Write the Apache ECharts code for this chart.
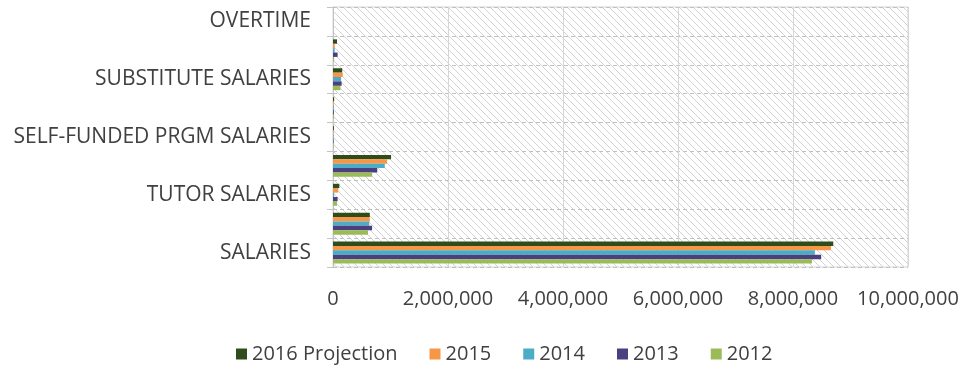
<!DOCTYPE html>
<html>
<head>
<meta charset="utf-8">
<script src="https://cdn.jsdelivr.net/npm/echarts@6/dist/echarts.min.js"></script>
<style>
  html, body { margin: 0; padding: 0; background: #ffffff; }
  #chart { width: 968px; height: 370px; }
</style>
</head>
<body>
<div id="chart"></div>
<script>
// Salary lines, listed from the bottom of the axis to the top
const categories = [
  'SALARIES', '', 'TUTOR SALARIES', '', 'SELF-FUNDED PRGM SALARIES',
  '', 'SUBSTITUTE SALARIES', '', 'OVERTIME'
];

// Amounts per year, same order as categories
const values2016 = [8700000, 640000, 110000, 1010000, 15000, 20000, 160000, 70000, 0];
const values2015 = [8660000, 640000, 90000, 940000, 10000, 15000, 170000, 30000, 0];
const values2014 = [8380000, 630000, 20000, 900000, 10000, 15000, 140000, 30000, 0];
const values2013 = [8490000, 680000, 80000, 770000, 10000, 15000, 150000, 80000, 0];
const values2012 = [8330000, 610000, 70000, 680000, 10000, 15000, 130000, 20000, 0];

const seriesNames = ['2016 Projection', '2015', '2014', '2013', '2012'];
const xTicks = { min: 0, max: 10000000, step: 2000000 };

// Diagonal hatch used as the plot-area fill
function hatchPattern() {
  const s = 7;
  const c = document.createElement('canvas');
  c.width = s; c.height = s;
  const g = c.getContext('2d');
  g.fillStyle = '#ffffff';
  g.fillRect(0, 0, s, s);
  g.strokeStyle = '#d2d2d2';
  g.lineWidth = 1;
  g.beginPath();
  g.moveTo(-1, -1); g.lineTo(s + 1, s + 1);
  g.moveTo(-1 - s, -1); g.lineTo(1, s + 1);
  g.moveTo(s - 1, -1); g.lineTo(2 * s + 1, s + 1);
  g.stroke();
  return { image: c, repeat: 'repeat' };
}

function withCommas(v) {
  return String(v).replace(/\B(?=(\d{3})+(?!\d))/g, ',');
}

const font = '"Open Sans", "Noto Sans", sans-serif';

const chart = echarts.init(document.getElementById('chart'), null, { renderer: 'canvas' });

function bar(name, data, color) {
  return {
    name: name,
    type: 'bar',
    data: data,
    barGap: '0%',
    barCategoryGap: '24%',
    itemStyle: { color: color },
    emphasis: { disabled: true }
  };
}

chart.setOption({
  animation: false,
  textStyle: { fontFamily: font },
  grid: {
    left: 333, right: 60, top: 7, bottom: 103,
    show: true,
    backgroundColor: hatchPattern(),
    borderColor: '#d4d4d4',
    borderWidth: 1
  },
  legend: {
    data: seriesNames,
    left: 231,
    top: 339,
    itemWidth: 11,
    itemHeight: 11,
    itemGap: 32,
    icon: 'rect',
    textStyle: { fontFamily: font, fontSize: 20, color: '#404040' }
  },
  xAxis: {
    type: 'value',
    min: xTicks.min,
    max: xTicks.max,
    interval: xTicks.step,
    axisLine: { show: false },
    axisTick: { show: false },
    splitLine: { show: true, lineStyle: { color: '#d6d6d6', width: 1 } },
    axisLabel: {
      margin: 22,
      fontFamily: font,
      fontSize: 20,
      color: '#404040',
      formatter: withCommas
    }
  },
  yAxis: {
    type: 'category',
    data: categories,
    axisLine: { show: true, lineStyle: { color: '#c4c4c4' } },
    axisTick: { show: true, length: 6, lineStyle: { color: '#c4c4c4' } },
    splitLine: { show: true, lineStyle: { color: '#c0c0c0', type: [4, 3] } },
    axisLabel: {
      interval: 0,
      margin: 22,
      fontFamily: font,
      fontSize: 21,
      color: '#404040'
    }
  },
  // Within each category the first series sits on top
  series: [
    bar('2016 Projection', values2016, '#2e4d1a'),
    bar('2015', values2015, '#f79646'),
    bar('2014', values2014, '#4bacc6'),
    bar('2013', values2013, '#4b3f80'),
    bar('2012', values2012, '#9bbb59')
  ]
});
</script>
</body>
</html>
